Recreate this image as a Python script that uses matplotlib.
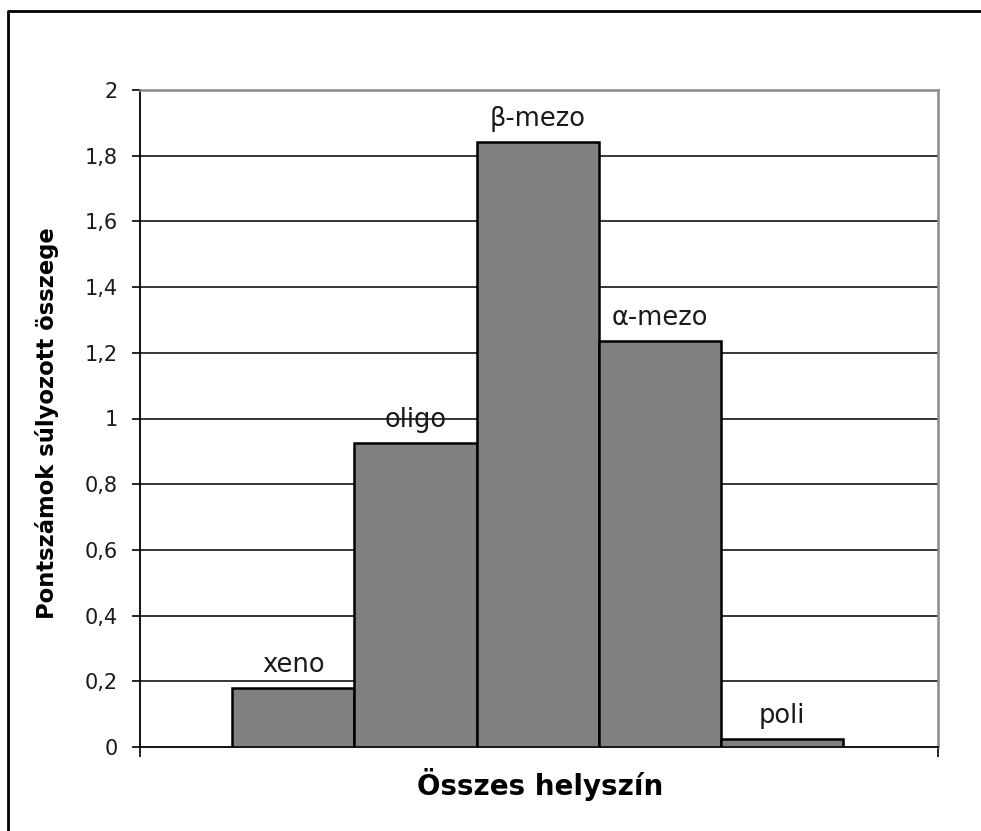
import matplotlib
matplotlib.use("Agg")
import matplotlib.pyplot as plt
from matplotlib.lines import Line2D

categories = ["xeno", "oligo", "β-mezo", "α-mezo", "poli"]
values = [0.18, 0.925, 1.843, 1.236, 0.024]
yticks = [0, 0.2, 0.4, 0.6, 0.8, 1.0, 1.2, 1.4, 1.6, 1.8, 2.0]
ytick_labels = ["0", "0,2", "0,4", "0,6", "0,8", "1", "1,2", "1,4", "1,6", "1,8", "2"]
xlabel = "Összes helyszín"
ylabel = "Pontszámok súlyozott összege"

plt.rcParams['font.family'] = ['DejaVu Sans']
W, H = 981, 831
fig = plt.figure(figsize=(W / 100, H / 100), dpi=100)
fig.patch.set_facecolor("white")

ax = fig.add_axes([140 / W, 1 - 747 / H, (938 - 140) / W, (747 - 90) / H])

pos = list(range(len(categories)))
ax.bar(pos, values, width=1.0, color="#808080", edgecolor="black", linewidth=1.8, zorder=3)

for x, v, lab in zip(pos, values, categories):
    ax.annotate(lab, xy=(x, v), xytext=(0, 16), textcoords="offset pixels",
                ha="center", va="baseline", fontsize=18.5, color="#1a1a1a")

ax.set_xlim(-1.255, 5.275)
ax.set_ylim(0, 2)
ax.set_yticks(yticks)
ax.set_yticklabels(ytick_labels, fontsize=15, color="#1a1a1a")
ax.tick_params(axis="y", direction="out", length=6, width=1.2, pad=10, color="black")
ax.set_xticks([-1.255, 5.275])
ax.set_xticklabels(["", ""])
ax.tick_params(axis="x", direction="out", length=7, width=1.2, color="black")

for v in yticks[1:-1]:
    ax.axhline(v, color="black", linewidth=1.1, zorder=1)

ax.spines["left"].set_color("black")
ax.spines["left"].set_linewidth(1.3)
ax.spines["bottom"].set_color("black")
ax.spines["bottom"].set_linewidth(1.3)
ax.spines["top"].set_color("#8a8a8a")
ax.spines["top"].set_linewidth(1.8)
ax.spines["right"].set_color("#8a8a8a")
ax.spines["right"].set_linewidth(1.8)

fig.text(540 / W, 1 - 795 / H, xlabel, ha="center", va="baseline",
         fontsize=20, fontweight="bold", color="black")
fig.text(47 / W, 1 - 423 / H, ylabel, ha="center", va="center", rotation=90,
         fontsize=16.3, fontweight="bold", color="black")

# outer frame (top and left visible)
fig.add_artist(Line2D([8 / W, 8 / W, 1.0], [0.0, 1 - 11 / H, 1 - 11 / H],
                      transform=fig.transFigure, color="black", linewidth=2.0))

fig.savefig("out.png", dpi=100, facecolor="white")
